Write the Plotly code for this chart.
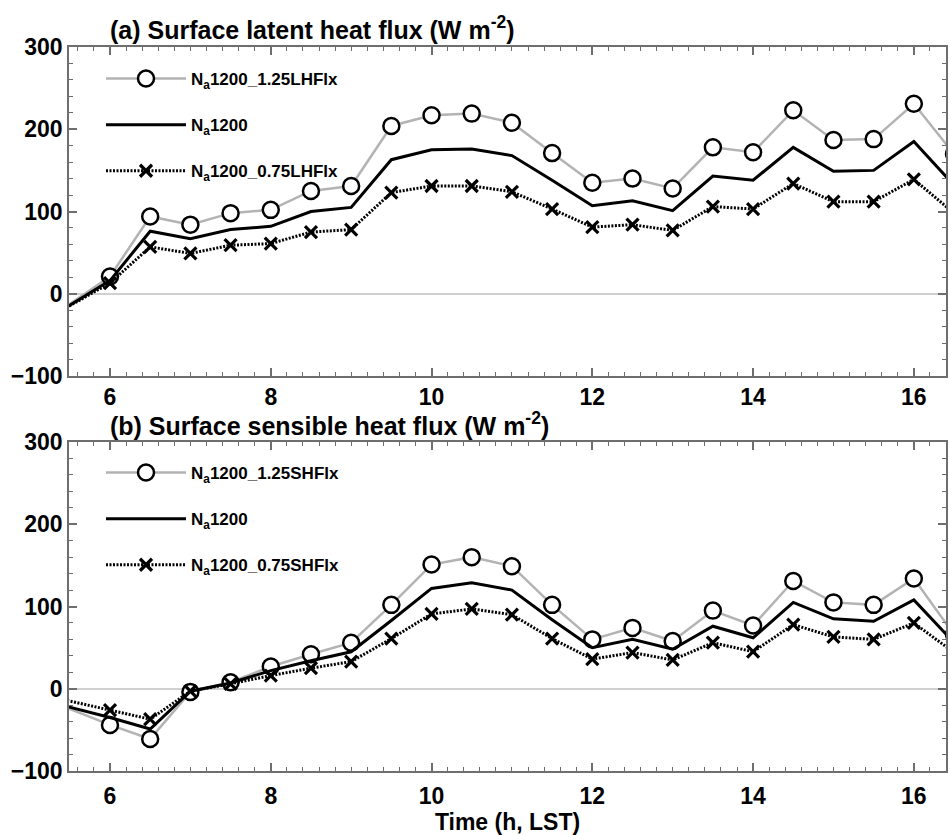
import plotly.graph_objects as go

# Time (h, LST); the 5.0 h point lies left of the visible axis range
hours = [5.0, 6.0, 6.5, 7.0, 7.5, 8.0, 8.5, 9.0, 9.5, 10.0, 10.5, 11.0, 11.5,
         12.0, 12.5, 13.0, 13.5, 14.0, 14.5, 15.0, 15.5, 16.0, 16.5]

# (a) Surface latent heat flux (W m-2)
lh_125 = [-46, 21, 94, 84, 98, 102, 125, 131, 204, 217, 219, 208, 171,
          135, 140, 128, 178, 172, 223, 187, 188, 231, 170]
lh_base = [-44, 16, 76, 67, 78, 82, 100, 105, 163, 175, 176, 168, 138,
           107, 113, 101, 143, 138, 178, 149, 150, 185, 132]
lh_075 = [-42, 13, 57, 49, 59, 61, 75, 78, 123, 131, 131, 124, 103,
          81, 84, 77, 106, 103, 134, 112, 112, 139, 98]

# (b) Surface sensible heat flux (W m-2)
sh_125 = [-5, -44, -61, -4, 8, 27, 42, 56, 102, 151, 160, 149, 102,
          60, 74, 58, 95, 77, 131, 105, 102, 134, 66]
sh_base = [-10, -35, -49, -3, 7, 22, 34, 45, 83, 122, 129, 120, 84,
           50, 60, 48, 76, 62, 105, 85, 82, 108, 56]
sh_075 = [-4, -26, -37, -3, 6, 16, 25, 33, 61, 91, 97, 90, 61,
          36, 44, 35, 56, 45, 78, 63, 60, 80, 44]

W, H = 950, 835
FONT = "Liberation Sans, Arial, sans-serif"
AXIS_GRAY = "#6e6e6e"


def px_x(p):
    return p / W


def px_y(p):
    return 1 - p / H


fig = go.Figure()


def add_panel(xa, ya, legend, y125, ybase, y075, tag):
    fig.add_trace(go.Scatter(
        x=hours, y=y125, xaxis=xa, yaxis=ya, legend=legend,
        name="N<sub>a</sub>1200_1.25" + tag, legendgroup=tag + "1",
        mode="lines+markers",
        line=dict(color="#b3b3b3", width=2.5),
        marker=dict(symbol="circle", size=16, color="white",
                    line=dict(color="black", width=2.5)),
    ))
    fig.add_trace(go.Scatter(
        x=hours, y=ybase, xaxis=xa, yaxis=ya, legend=legend,
        name="N<sub>a</sub>1200", legendgroup=tag + "2",
        mode="lines",
        line=dict(color="black", width=3),
    ))
    fig.add_trace(go.Scatter(
        x=hours, y=y075, xaxis=xa, yaxis=ya, legend=legend,
        name="N<sub>a</sub>1200_0.75" + tag, legendgroup=tag + "3",
        mode="lines+markers",
        line=dict(color="black", width=3, dash="2px,1.5px"),
        marker=dict(symbol="x-thin", size=12, color="black",
                    line=dict(color="black", width=3.2)),
    ))


add_panel("x", "y", "legend", lh_125, lh_base, lh_075, "LHFlx")
add_panel("x2", "y2", "legend2", sh_125, sh_base, sh_075, "SHFlx")

tickfont = dict(family=FONT, size=23, color="black", weight="bold")

xcommon = dict(
    range=[5.49, 16.4], tick0=6, dtick=2, ticks="inside", ticklen=8,
    tickwidth=1.5, tickcolor=AXIS_GRAY, showline=True, linecolor=AXIS_GRAY,
    linewidth=1.5, mirror="ticks", showgrid=False, zeroline=False,
    tickfont=tickfont, automargin=False,
    minor=dict(tick0=6, dtick=0.2, ticks="inside", ticklen=4, tickwidth=1,
               tickcolor=AXIS_GRAY, showgrid=False),
)
ycommon = dict(
    range=[-100, 300], tick0=0, dtick=100, ticks="inside", ticklen=8,
    tickwidth=1.5, tickcolor=AXIS_GRAY, showline=True, linecolor=AXIS_GRAY,
    linewidth=1.5, mirror="ticks", showgrid=False, zeroline=True,
    zerolinecolor="#d0d0d0", zerolinewidth=1.5, tickfont=tickfont,
    automargin=False,
    minor=dict(tick0=0, dtick=20, ticks="inside", ticklen=4, tickwidth=1,
               tickcolor=AXIS_GRAY, showgrid=False),
)

xdom = [px_x(69), px_x(946)]
legend_common = dict(
    xanchor="left", yanchor="top", bgcolor="rgba(0,0,0,0)",
    font=dict(family=FONT, size=17, color="black", weight="bold"),
    itemwidth=80, tracegroupgap=21, traceorder="grouped",
)

title_font = dict(family=FONT, size=25, color="black", weight="bold")

fig.update_layout(
    width=W, height=H,
    margin=dict(l=0, r=0, t=0, b=0, autoexpand=False),
    paper_bgcolor="white", plot_bgcolor="white",
    showlegend=True,
    xaxis=dict(domain=xdom, anchor="y", ticklabelstandoff=0, **xcommon),
    yaxis=dict(domain=[px_y(376), px_y(47)], anchor="x", **ycommon),
    xaxis2=dict(domain=xdom, anchor="y2", ticklabelstandoff=4,
                title=dict(text="Time (h, LST)", standoff=3,
                           font=dict(family=FONT, size=23, color="black",
                                     weight="bold")),
                **xcommon),
    yaxis2=dict(domain=[px_y(771), px_y(442)], anchor="x2", **ycommon),
    legend=dict(x=px_x(101), y=px_y(61), **legend_common),
    legend2=dict(x=px_x(101), y=px_y(455), **legend_common),
    annotations=[
        dict(text="(a) Surface latent heat flux (W m<sup>-2</sup>)",
             xref="paper", yref="paper", x=px_x(108), y=px_y(28),
             xanchor="left", yanchor="middle", showarrow=False,
             font=title_font),
        dict(text="(b) Surface sensible heat flux (W m<sup>-2</sup>)",
             xref="paper", yref="paper", x=px_x(108), y=px_y(424),
             xanchor="left", yanchor="middle", showarrow=False,
             font=title_font),
    ],
)

fig.write_html("out.html")
